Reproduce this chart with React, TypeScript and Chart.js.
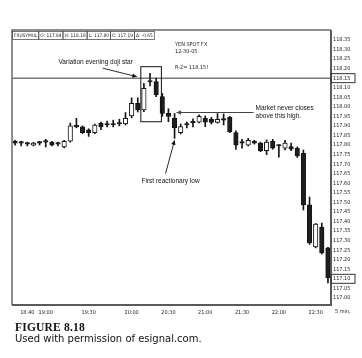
import React, { useEffect, useRef } from "react";
import { Chart, registerables } from "chart.js";
Chart.register(...registerables);

// ---- data (5-minute candles, USD/JPY spot) ----
const OPEN = [117.82, 117.81, 117.805, 117.80, 117.81, 117.815, 117.815, 117.805, 117.79, 117.82,
  117.895, 117.895, 117.88, 117.865, 117.915, 117.905, 117.905, 117.91, 117.91, 117.952,
  118.018, 117.984, 118.13, 118.132, 118.053, 117.966, 117.94, 117.865, 117.905, 117.916,
  117.92, 117.94, 117.935, 117.918, 117.93, 117.945, 117.865, 117.81, 117.80, 117.82,
  117.81, 117.77, 117.82, 117.80, 117.783, 117.792, 117.783, 117.757, 117.487, 117.267,
  117.371, 117.262];
const HIGH = [117.825, 117.82, 117.815, 117.815, 117.82, 117.83, 117.82, 117.815, 117.825, 117.915,
  117.94, 117.90, 117.885, 117.91, 117.92, 117.925, 117.93, 117.935, 117.97, 118.047,
  118.047, 118.123, 118.175, 118.15, 118.07, 117.99, 117.965, 117.91, 117.92, 117.937,
  117.958, 117.952, 117.945, 117.965, 117.963, 117.95, 117.875, 117.83, 117.835, 117.825,
  117.815, 117.827, 117.83, 117.802, 117.825, 117.81, 117.79, 117.774, 117.528, 117.39,
  117.392, 117.265];
const LOW = [117.80, 117.795, 117.795, 117.795, 117.80, 117.79, 117.795, 117.795, 117.785, 117.815,
  117.89, 117.86, 117.845, 117.86, 117.88, 117.895, 117.895, 117.90, 117.905, 117.942,
  117.973, 117.975, 118.11, 118.053, 117.95, 117.922, 117.835, 117.858, 117.89, 117.895,
  117.916, 117.896, 117.91, 117.915, 117.905, 117.865, 117.777, 117.783, 117.795, 117.805,
  117.765, 117.75, 117.778, 117.736, 117.775, 117.77, 117.735, 117.46, 117.28, 117.262,
  117.23, 117.078];
const CLOSE = [117.81, 117.81, 117.805, 117.81, 117.81, 117.815, 117.80, 117.805, 117.82, 117.90,
  117.895, 117.865, 117.865, 117.905, 117.895, 117.905, 117.905, 117.91, 117.94, 118.018,
  117.984, 118.097, 118.13, 118.062, 117.966, 117.95, 117.89, 117.896, 117.905, 117.916,
  117.95, 117.92, 117.918, 117.935, 117.93, 117.87, 117.80, 117.81, 117.825, 117.81,
  117.77, 117.815, 117.783, 117.795, 117.81, 117.778, 117.743, 117.487, 117.288, 117.387,
  117.235, 117.105];

const X_TICK_INDEX = [2, 5, 12, 19, 25, 31, 37, 43, 49];
const X_TICK_LABELS = ["18:40", "19:00", "19:30", "20:00", "20:30", "21:00", "21:30", "22:00", "22:30"];
const Y_TICKS = [117.00, 117.05, 117.10, 117.15, 117.20, 117.25, 117.30, 117.35, 117.40, 117.45,
  117.50, 117.55, 117.60, 117.65, 117.70, 117.75, 117.80, 117.85, 117.90, 117.95,
  118.00, 118.05, 118.10, 118.15, 118.20, 118.25, 118.30, 118.35];
const Y_MIN = 116.963;
const Y_MAX = 118.402;
const BOXED_TICKS = [118.15, 117.10];
const R2_LEVEL = 118.15;
const HEADER_CELLS = ["FXUSYMUL", "O: 117.84", "H: 118.18", "L: 117.80", "C: 117.19", "\u0394: -0.65"];
const INFO_LINES = ["YEN SPOT FX", "12-30-05"];
const R2_TEXT = "R-2= 118.15!";
const DOJI_BOX = { from: 20.5, to: 23.85, top: 118.21, bottom: 117.922 };
const NEVER_CLOSE_BAR = 26;
const REACTION_LOW_BAR = 26;
const NOTE_DOJI = "Variation evening doji star";
const NOTE_HIGH = ["Market never closes", "above this high."];
const NOTE_LOW = "First reactionary low";
const PERIOD_LABEL = "5 min.";

const NARROW = "'Liberation Sans Narrow', 'DejaVu Sans Condensed', sans-serif";
const SANS = "'Liberation Sans', Arial, sans-serif";

function arrow(ctx: CanvasRenderingContext2D, x1: number, y1: number, x2: number, y2: number) {
  ctx.beginPath();
  ctx.moveTo(x1, y1);
  ctx.lineTo(x2, y2);
  ctx.stroke();
  const ang = Math.atan2(y2 - y1, x2 - x1);
  const L = 4.5, W = 2.2;
  ctx.beginPath();
  ctx.moveTo(x2, y2);
  ctx.lineTo(x2 - L * Math.cos(ang) + W * Math.sin(ang), y2 - L * Math.sin(ang) - W * Math.cos(ang));
  ctx.lineTo(x2 - L * Math.cos(ang) - W * Math.sin(ang), y2 - L * Math.sin(ang) + W * Math.cos(ang));
  ctx.closePath();
  ctx.fill();
}

const decorPlugin = {
  id: "decor",
  beforeDatasetsDraw(chart: any) {
    const { ctx, chartArea: a, scales } = chart;
    const yy = scales.y.getPixelForValue(R2_LEVEL);
    ctx.save();
    ctx.strokeStyle = "#7a7a7a";
    ctx.lineWidth = 1.5;
    ctx.beginPath();
    ctx.moveTo(a.left, yy);
    ctx.lineTo(a.right, yy);
    ctx.stroke();
    ctx.restore();
  },
  afterDraw(chart: any) {
    const { ctx, chartArea: a, scales } = chart;
    const xs = scales.x, ys = scales.y;
    ctx.save();
    // frame
    ctx.strokeStyle = "#6a6a6a";
    ctx.lineWidth = 1.5;
    ctx.beginPath();
    ctx.moveTo(a.left, a.bottom);
    ctx.lineTo(a.left, a.top);
    ctx.lineTo(a.right, a.top);
    ctx.stroke();
    ctx.lineWidth = 2;
    ctx.strokeStyle = "#5a5a5a";
    ctx.beginPath();
    ctx.moveTo(a.left, a.bottom);
    ctx.lineTo(a.right, a.bottom);
    ctx.moveTo(a.right, a.top);
    ctx.lineTo(a.right, a.bottom + 1);
    ctx.stroke();

    // boxed axis labels
    ctx.lineWidth = 1;
    ctx.strokeStyle = "#333";
    BOXED_TICKS.forEach((v) => {
      const py = ys.getPixelForValue(v);
      ctx.strokeRect(a.right, py - 4.5, 24, 9);
    });

    // header cells
    ctx.font = `4.8px ${NARROW}`;
    ctx.fillStyle = "#222";
    ctx.textBaseline = "middle";
    ctx.textAlign = "left";
    let hx = a.left;
    const hy = a.top + 1.5;
    ctx.strokeStyle = "#555";
    ctx.lineWidth = 0.8;
    HEADER_CELLS.forEach((t) => {
      const w = ctx.measureText(t).width + 3;
      ctx.strokeRect(hx + 0.5, hy, w, 8);
      ctx.fillText(t, hx + 2, hy + 4.3);
      hx += w;
    });

    // info text
    ctx.font = `5.5px ${NARROW}`;
    const ix = a.left + 163;
    INFO_LINES.forEach((t, i) => ctx.fillText(t, ix, a.top + 15 + i * 7));
    ctx.fillText(R2_TEXT, ix, a.top + 38);

    // period label
    ctx.font = `5.5px ${NARROW}`;
    ctx.fillText(PERIOD_LABEL, a.right + 4, a.bottom + 7);

    // doji box
    const bx1 = xs.getPixelForValue(DOJI_BOX.from);
    const bx2 = xs.getPixelForValue(DOJI_BOX.to);
    const by1 = ys.getPixelForValue(DOJI_BOX.top);
    const by2 = ys.getPixelForValue(DOJI_BOX.bottom);
    ctx.strokeStyle = "#111";
    ctx.lineWidth = 1;
    ctx.strokeRect(bx1, by1, bx2 - bx1, by2 - by1);

    ctx.fillStyle = "#111";
    ctx.strokeStyle = "#111";
    ctx.lineWidth = 0.9;
    ctx.font = `6.5px ${SANS}`;
    // doji note
    ctx.textAlign = "right";
    ctx.fillText(NOTE_DOJI, bx1 - 8, by1 - 4.5);
    arrow(ctx, bx1 - 38, by1 + 1.5, bx1 - 4, by1 + 10);

    // never-close-above note
    const hxp = xs.getPixelForValue(NEVER_CLOSE_BAR) + 2;
    const hyp = ys.getPixelForValue(HIGH[NEVER_CLOSE_BAR]) - 1;
    const hend = hxp + 77;
    ctx.lineWidth = 1.1;
    ctx.strokeStyle = "#444";
    ctx.fillStyle = "#444";
    arrow(ctx, hend, hyp, hxp, hyp);
    ctx.fillStyle = "#111";
    ctx.textAlign = "left";
    ctx.fillText(NOTE_HIGH[0], hend + 2, hyp - 4);
    ctx.fillText(NOTE_HIGH[1], hend + 2, hyp + 4);

    // reactionary low note
    const lx = xs.getPixelForValue(REACTION_LOW_BAR);
    const ly = ys.getPixelForValue(LOW[REACTION_LOW_BAR]) + 2;
    ctx.strokeStyle = "#111";
    ctx.fillStyle = "#111";
    ctx.lineWidth = 0.9;
    arrow(ctx, lx - 9, ly + 33, lx, ly);
    ctx.textAlign = "center";
    ctx.fillText(NOTE_LOW, lx - 4, ly + 41);
    ctx.restore();
  },
};

export default function App() {
  const ref = useRef<HTMLCanvasElement | null>(null);
  useEffect(() => {
    if (!ref.current) return;
    const labels = OPEN.map((_, i) => {
      const k = X_TICK_INDEX.indexOf(i);
      return k >= 0 ? X_TICK_LABELS[k] : "";
    });
    const bodyColors = OPEN.map((o, i) => (CLOSE[i] > o ? "#ffffff" : "#1e1e1e"));
    const chart = new Chart(ref.current, {
      type: "bar",
      data: {
        labels,
        datasets: [
          {
            data: LOW.map((l, i) => [l, HIGH[i]]) as any,
            backgroundColor: "#151515",
            borderWidth: 0,
            barThickness: 1,
            grouped: false,
            order: 2,
          } as any,
          {
            data: OPEN.map((o, i) => [o, CLOSE[i]]) as any,
            backgroundColor: bodyColors,
            borderColor: "#151515",
            borderWidth: 1,
            borderSkipped: false,
            barThickness: 4.5,
            minBarLength: 1.5,
            grouped: false,
            order: 1,
          } as any,
        ],
      },
      options: {
        animation: false,
        responsive: false,
        maintainAspectRatio: false,
        layout: { padding: { left: 12, top: 30, right: 0, bottom: 0 } },
        plugins: { legend: { display: false }, tooltip: { enabled: false } },
        scales: {
          x: {
            type: "category",
            offset: true,
            grid: { display: false, drawTicks: false },
            border: { display: false },
            ticks: {
              autoSkip: false,
              maxRotation: 0,
              minRotation: 0,
              padding: 4,
              color: "#222",
              font: { size: 5.5, family: NARROW },
            },
            afterFit: (s: any) => { s.height = 17; },
          },
          y: {
            type: "linear",
            position: "right",
            min: Y_MIN,
            max: Y_MAX,
            grid: { display: false, drawTicks: false },
            border: { display: false },
            afterBuildTicks: (s: any) => { s.ticks = Y_TICKS.map((v) => ({ value: v })); },
            afterFit: (s: any) => { s.width = 31; },
            ticks: {
              autoSkip: false,
              padding: 2,
              color: "#222",
              font: { size: 5.5, family: NARROW },
              callback: (v: any) => Number(v).toFixed(2),
            },
          },
        },
      },
      plugins: [decorPlugin],
    } as any);
    return () => chart.destroy();
  }, []);

  return (
    <div style={{ position: "absolute", left: 0, top: 0, width: 362, height: 358, background: "#fff" }}>
      <canvas ref={ref} width={362} height={322} style={{ display: "block", width: 362, height: 322 }} />
      <div
        style={{
          position: "absolute", left: 15, top: 321,
          fontFamily: "'Liberation Serif', 'DejaVu Serif', serif", fontWeight: 700,
          fontSize: 11.5, lineHeight: "12px", color: "#111", letterSpacing: 0.2,
        }}
      >
        FIGURE 8.18
      </div>
      <div
        style={{
          position: "absolute", left: 15, top: 333,
          fontFamily: "'DejaVu Sans', Verdana, sans-serif",
          fontSize: 10, lineHeight: "11px", color: "#111",
        }}
      >
        Used with permission of esignal.com.
      </div>
    </div>
  );
}
